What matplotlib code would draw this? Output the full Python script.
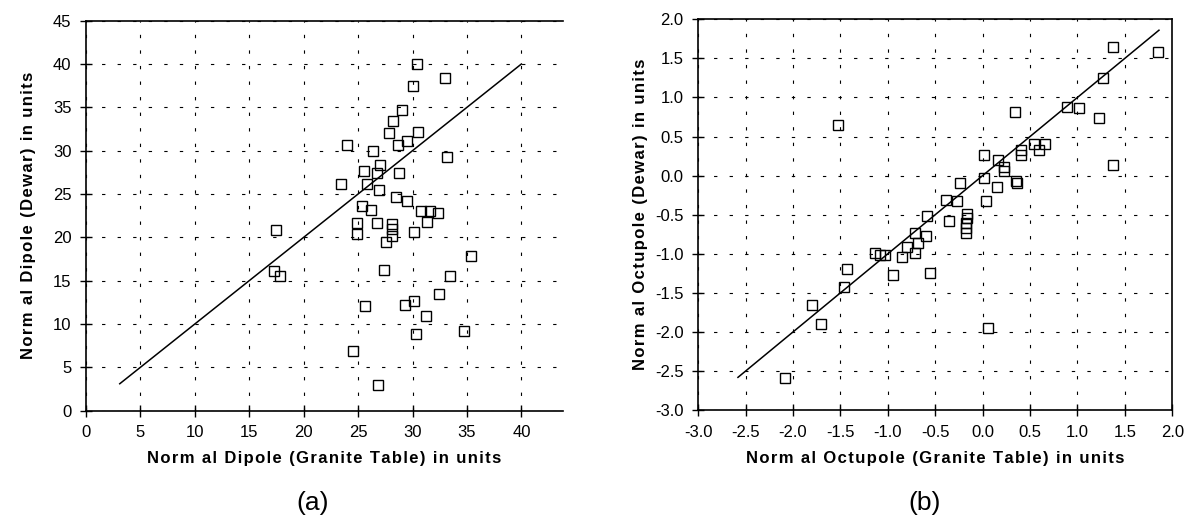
import matplotlib
matplotlib.use("Agg")
import matplotlib.pyplot as plt
from matplotlib.ticker import FormatStrFormatter

plt.rcParams['font.family'] = ['Liberation Sans', 'DejaVu Sans']

# (a) normal dipole: granite table vs dewar
dipole_granite = [30.4, 30.0, 33.0, 29.0, 28.2, 27.8, 30.5, 28.7, 29.5, 24.0,
                  26.4, 33.2, 27.0, 25.5, 26.7, 28.8, 23.4, 25.85, 26.9, 28.5,
                  29.45, 25.4, 26.2, 30.8, 31.6, 32.3, 31.3, 17.5, 24.9, 24.9,
                  26.7, 28.1, 28.1, 28.1, 27.6, 30.1, 17.3, 17.8, 27.35, 35.4,
                  33.4, 32.4, 25.6, 29.3, 30.1, 31.2, 30.3, 34.75, 24.5, 26.8]
dipole_dewar = [40.0, 37.5, 38.4, 34.65, 33.4, 32.0, 32.2, 30.7, 31.1, 30.6,
                30.0, 29.3, 28.3, 27.6, 27.4, 27.4, 26.2, 26.1, 25.5, 24.65,
                24.2, 23.6, 23.2, 23.0, 23.0, 22.8, 21.8, 20.9, 21.6, 20.4,
                21.6, 21.5, 21.0, 20.15, 19.5, 20.6, 16.1, 15.5, 16.2, 17.9,
                15.5, 13.4, 12.1, 12.2, 12.7, 10.95, 8.8, 9.2, 6.9, 3.0]
dipole_line = [3.1, 40.0]

# (b) normal octupole: granite table vs dewar
octu_granite = [-2.08, -1.80, -1.70, -1.46, -1.43, -1.52, -1.13, -1.08, -1.03, -0.94,
                -0.85, -0.80, -0.71, -0.71, -0.68, -0.60, -0.59, -0.55, -0.39, -0.35,
                -0.27, -0.24, -0.16, -0.16, -0.17, -0.17, -0.18, 0.01, 0.01, 0.04,
                0.06, 0.15, 0.16, 0.23, 0.23, 0.34, 0.35, 0.36, 0.40, 0.40,
                0.54, 0.60, 0.66, 0.89, 1.02, 1.23, 1.27, 1.38, 1.38, 1.85]
octu_dewar = [-2.59, -1.65, -1.90, -1.42, -1.19, 0.65, -0.99, -1.01, -1.01, -1.27,
              -1.04, -0.91, -0.99, -0.74, -0.86, -0.77, -0.52, -1.25, -0.31, -0.58,
              -0.33, -0.09, -0.49, -0.54, -0.60, -0.67, -0.73, 0.27, -0.03, -0.32,
              -1.95, -0.15, 0.20, 0.11, 0.06, 0.82, -0.07, -0.10, 0.33, 0.27,
              0.40, 0.33, 0.40, 0.88, 0.86, 0.74, 1.25, 1.64, 0.13, 1.58]
octu_line = [-2.58, 1.86]

dipole_ticks = [0, 5, 10, 15, 20, 25, 30, 35, 40]
dipole_yticks = [0, 5, 10, 15, 20, 25, 30, 35, 40, 45]
octu_ticks = [-3.0, -2.5, -2.0, -1.5, -1.0, -0.5, 0.0, 0.5, 1.0, 1.5, 2.0]

fig = plt.figure(figsize=(11.93, 5.25), dpi=100)
ax1 = fig.add_axes([0.0721, 0.2179, 0.3996, 0.7427])
ax2 = fig.add_axes([0.5852, 0.2187, 0.3974, 0.7446])

grid_style = dict(color='black', linewidth=0.8, linestyle=(0, (3, 11)))
marker_style = dict(linestyle='none', marker='s', markersize=7.5,
                    markerfacecolor='none', markeredgecolor='black', markeredgewidth=1.0)
label_font = dict(fontsize=12, fontweight='bold')


def spaced(txt):
    # the original axis titles are letter-spaced
    return '\u200a'.join(txt)


def style_axes(ax):
    ax.grid(True, **grid_style)
    ax.set_axisbelow(True)
    ax.tick_params(direction='inout', length=9, width=1, labelsize=12, pad=6)
    for s in ax.spines.values():
        s.set_linewidth(1.2)


# Panel (a)
ax1.plot(dipole_granite, dipole_dewar, **marker_style)
ax1.plot(dipole_line, dipole_line, color='black', linewidth=1.1)
ax1.set_xlim(0, 43.8)
ax1.set_ylim(0, 45)
ax1.set_xticks(dipole_ticks)
ax1.set_yticks(dipole_yticks)
style_axes(ax1)
ax1.spines['right'].set_visible(False)
ax1.set_xlabel(spaced('Norm al Dipole (Granite Table) in units'), labelpad=8, **label_font)
ax1.set_ylabel(spaced('Norm al Dipole (Dewar) in units'), labelpad=12, **label_font)

# Panel (b)
ax2.plot(octu_granite, octu_dewar, **marker_style)
ax2.plot(octu_line, octu_line, color='black', linewidth=1.1)
ax2.set_xlim(-3.0, 2.0)
ax2.set_ylim(-3.0, 2.0)
ax2.set_xticks(octu_ticks)
ax2.set_yticks(octu_ticks)
ax2.xaxis.set_major_formatter(FormatStrFormatter('%.1f'))
ax2.yaxis.set_major_formatter(FormatStrFormatter('%.1f'))
style_axes(ax2)
ax2.set_xlabel(spaced('Norm al Octupole (Granite Table) in units'), labelpad=8, **label_font)
ax2.set_ylabel(spaced('Norm al Octupole (Dewar) in units'), labelpad=5, **label_font)

fig.text(313 / 1193, 1 - 503 / 525, '(a)', fontsize=19, ha='center', va='center')
fig.text(925 / 1193, 1 - 503 / 525, '(b)', fontsize=19, ha='center', va='center')

plt.savefig("out.png", dpi=100)
